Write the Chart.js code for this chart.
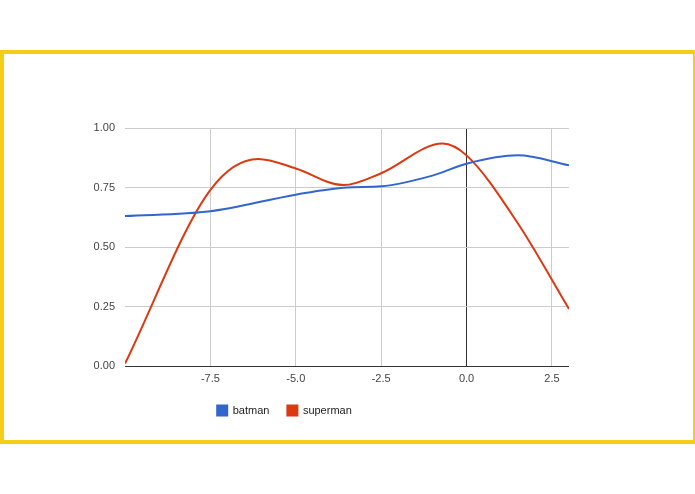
<!DOCTYPE html>
<html>
<head>
<script src="https://cdn.jsdelivr.net/npm/chart.js@4"></script>
<style>
body{margin:0;background:#fff;}
#frame{position:absolute;left:0;top:50px;width:689px;height:386px;border:4px solid #f5cc17;border-right-width:3px;}
#wrap{position:absolute;left:0;top:0;width:695px;height:494px;}
</style>
</head>
<body>
<div id="frame"></div>
<div id="wrap"><canvas id="chart"></canvas></div>
<script>
// x positions and values
var batmanX = [-10, -7.5, -5, -3.5, -2.5, -1, 0, 1.5, 3];
var batmanY = [0.63, 0.65, 0.72, 0.75, 0.755, 0.80, 0.85, 0.885, 0.843];
var supermanX = [-10, -7.5, -6.1, -5, -3.6, -2.5, -0.7, 0, 1.5, 3];
var supermanY = [0.01, 0.74, 0.87, 0.83, 0.76, 0.81, 0.935, 0.885, 0.6, 0.24];
var xTicks = [-7.5, -5, -2.5, 0, 2.5];

function pts(xs, ys) {
    return xs.map(function (x, i) { return {x: x, y: ys[i]}; });
}

Chart.defaults.font.family = "Arial, 'Liberation Sans', sans-serif";
Chart.defaults.font.size = 11;
Chart.defaults.color = "#444";

new Chart(document.getElementById("chart"), {
    type: 'scatter',
    data: {
        datasets: [
            {label: "batman", data: pts(batmanX, batmanY), showLine: true, borderColor: "#3366cc", backgroundColor: "#3366cc", borderWidth: 2, pointRadius: 0, cubicInterpolationMode: 'monotone'},
            {label: "superman", data: pts(supermanX, supermanY), showLine: true, borderColor: "#dc3912", backgroundColor: "#dc3912", borderWidth: 2, pointRadius: 0, cubicInterpolationMode: 'monotone'}
        ]
    },
    options: {
        responsive: true,
        maintainAspectRatio: false,
        animation: false,
        layout: {padding: {left: 0, right: 126, top: 128, bottom: 68}},
        plugins: {
            tooltip: {enabled: false},
            legend: {
                position: 'bottom',
                labels: {boxWidth: 10, boxHeight: 10, padding: 18, color: "#222"}
            }
        },
        scales: {
            x: {
                type: 'linear', min: -10, max: 3,
                afterBuildTicks: function (s) { s.ticks = xTicks.map(function (v) { return {value: v}; }); },
                afterFit: function (s) { s.height = 21; },
                ticks: {padding: 6, callback: function (v) { return v.toFixed(1); }},
                grid: {color: function (c) { return c.tick && c.tick.value === 0 ? "#333" : "#ccc"; }, drawTicks: false},
                border: {display: false}
            },
            y: {
                min: 0, max: 1,
                afterFit: function (s) { s.width = 125; },
                ticks: {stepSize: 0.25, padding: 10, callback: function (v) { return v.toFixed(2); }},
                grid: {color: function (c) { return c.tick && c.tick.value === 0 ? "#333" : "#ccc"; }, drawTicks: false},
                border: {display: false}
            }
        }
    }
});
</script>
</body>
</html>
